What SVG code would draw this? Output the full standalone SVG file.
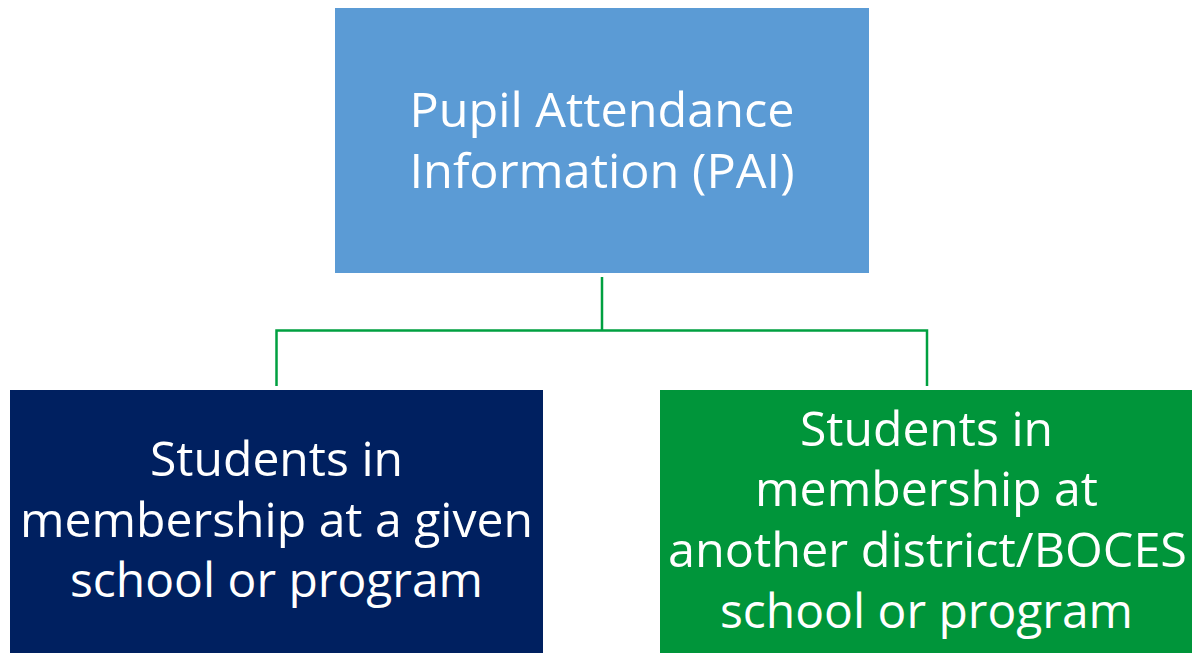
<svg xmlns="http://www.w3.org/2000/svg" width="1192" height="653" viewBox="0 0 1192 653">
<style>
.t{font-family:"Open Sans","Noto Sans","Liberation Sans",sans-serif;font-size:48px;fill:#ffffff;text-anchor:middle}
.c{fill:none;stroke:#00A040;stroke-width:2.5}
</style>
<rect width="1192" height="653" fill="#ffffff"/>
<g id="connectors">
<path class="c" d="M602,277 V330.5 M276.5,386 V330.5 H927 V386"/>
</g>
<g id="pai">
<rect x="335" y="8" width="534" height="265" fill="#5B9BD5"/>
<text class="t" x="602" y="127" textLength="385" lengthAdjust="spacingAndGlyphs">Pupil Attendance</text>
<text class="t" x="602" y="188" textLength="385" lengthAdjust="spacingAndGlyphs">Information (PAI)</text>
</g>
<g id="given">
<rect x="10" y="390" width="533" height="263" fill="#002060"/>
<text class="t" x="276.5" y="476" textLength="253" lengthAdjust="spacingAndGlyphs">Students in</text>
<text class="t" x="276.5" y="537" textLength="513" lengthAdjust="spacingAndGlyphs">membership at a given</text>
<text class="t" x="276.5" y="597" textLength="413" lengthAdjust="spacingAndGlyphs">school or program</text>
</g>
<g id="another">
<rect x="660" y="390" width="532" height="263" fill="#00953A"/>
<text class="t" x="926.5" y="446" textLength="253" lengthAdjust="spacingAndGlyphs">Students in</text>
<text class="t" x="926.5" y="506" textLength="343" lengthAdjust="spacingAndGlyphs">membership at</text>
<text class="t" x="927.5" y="567" textLength="519" lengthAdjust="spacingAndGlyphs">another district/BOCES</text>
<text class="t" x="926.5" y="628" textLength="413" lengthAdjust="spacingAndGlyphs">school or program</text>
</g>
</svg>
